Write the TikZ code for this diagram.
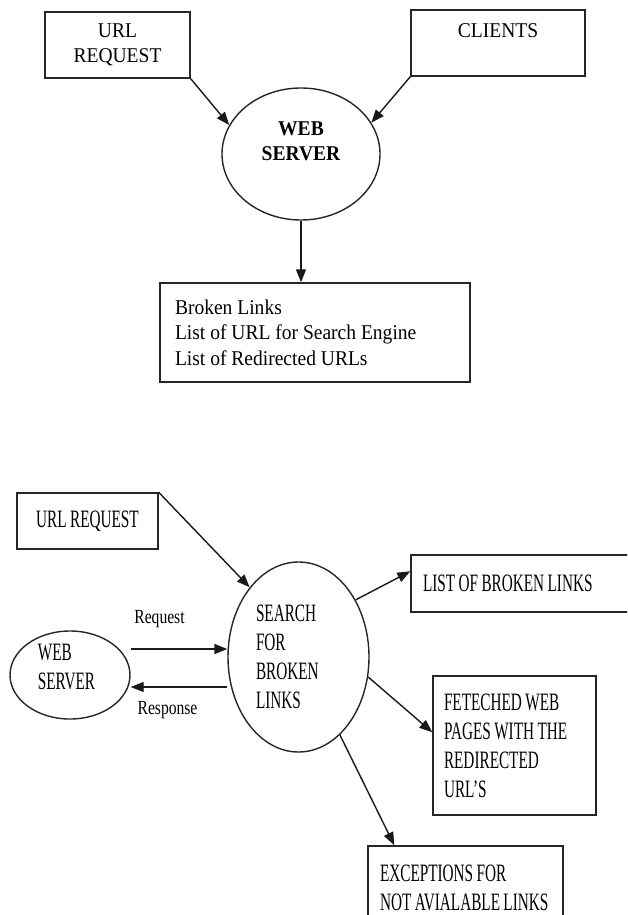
\documentclass[tikz,border=0pt]{standalone}
\usepackage{fontspec}
\setmainfont{Liberation Serif}
\newfontfamily\topfont[FakeStretch=0.93,WordSpace=1]{Liberation Serif}
\newfontfamily\lowfont[FakeStretch=0.61,WordSpace=0.9]{Liberation Serif}
\newfontfamily\lblfont[FakeStretch=0.78]{Liberation Serif}
\usetikzlibrary{arrows.meta,calc,shapes.geometric}

\begin{document}
\begin{tikzpicture}[x=1pt,y=-1pt,
  box/.style={draw=black!85,line width=1.4pt,rectangle},
  proc/.style={draw=black!85,line width=1.4pt,ellipse,inner sep=0pt},
  arr/.style={draw=black!90,line width=1.4pt,-{Triangle[length=13pt,width=10pt]}},
  up/.style={font={\topfont\fontsize{21}{25.5}\selectfont}},
  low/.style={font={\lowfont\fontsize{25}{29}\selectfont}},
  lbl/.style={font={\lblfont\fontsize{20}{24}\selectfont}}]
  \useasboundingbox (0,0) rectangle (627,915);
  \clip (0,0) rectangle (627,915);
  % upper figure
  \node[box,up,align=center,minimum width=145,minimum height=66] (urltop) at (117.5,45) {URL\\REQUEST};
  \node[box,up,align=center,minimum width=174,minimum height=66] (clients) at (498,43) {CLIENTS\\\mbox{}};
  \node[proc,up,font={\topfont\bfseries\fontsize{21}{25.5}\selectfont},align=center,minimum width=158,minimum height=132] (topweb) at (301,154) {WEB\\SERVER\\\mbox{}};
  \node[box,up,text width=280,align=flush left,minimum width=310,minimum height=99] (outlist) at (315,332.5) {Broken Links\\List of URL for Search Engine\\List of Redirected URLs};
  \draw[arr] (urltop.south east) -- (topweb.158);
  \draw[arr] (clients.south west) -- (topweb.24);
  \draw[arr] (topweb.south) -- (topweb.south |- outlist.north);
  % lower figure
  \node[box,low,minimum width=141,minimum height=56] (urlbot) at (87.5,521) {URL REQUEST};
  \node[proc,minimum width=120,minimum height=88] (websrv) at (70,675) {};
  \node[low,align=left] (websrvtxt) at (66.5,666.5) {WEB\\SERVER};
  \node[proc,low,text width=85,align=flush left,minimum width=141,minimum height=190] (srch) at (298.5,657) {SEARCH\\FOR\\BROKEN\\LINKS};
  \node[box,low,text width=216,align=flush left,minimum width=240,minimum height=57] (broken) at (531,583.5) {LIST OF BROKEN LINKS};
  \node[box,low,text width=141,align=flush left,minimum width=163,minimum height=139] (fetched) at (514.5,745.5) {FETECHED WEB\\PAGES WITH THE\\REDIRECTED\\URL’S};
  \node[box,low,text width=171,align=flush left,minimum width=195,minimum height=84] (except) at (465.5,888) {\mbox{EXCEPTIONS FOR}\\\mbox{NOT AVIALABLE LINKS}};
  \node[lbl] (reqlbl) at (159.5,619.5) {Request};
  \node[lbl] (reslbl) at (167.5,710.5) {Response};
  \coordinate (reqA) at ($(websrv.east)+(0,-26)$);
  \coordinate (resA) at ($(websrv.east)+(0,12)$);
  \draw[arr] (urlbot.north east) -- (srch.125);
  \draw[arr] (reqA) -- (reqA -| srch.west);
  \draw[arr] (resA -| srch.west) -- (resA);
  \draw[arr] (srch.45) -- ($(broken.north west)+(0,17)$);
  \draw[arr] (srch.-16) -- ($(fetched.north west)+(0,57)$);
  \draw[arr] (srch.-62) -- ($(except.north west)+(27,0)$);
\end{tikzpicture}
\end{document}
